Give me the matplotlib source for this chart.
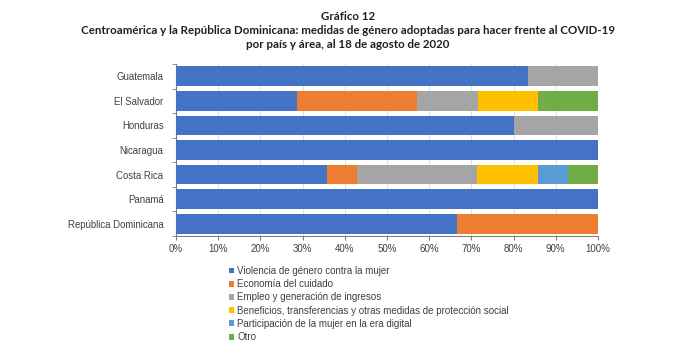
import matplotlib
matplotlib.use("Agg")
import matplotlib.pyplot as plt
import numpy as np

countries = ["Guatemala", "El Salvador", "Honduras", "Nicaragua", "Costa Rica", "Panamá", "República Dominicana"]
series_names = [
    "Violencia de género contra la mujer",
    "Economía del cuidado",
    "Empleo y generación de ingresos",
    "Beneficios, transferencias y otras medidas de protección social",
    "Participación de la mujer en la era digital",
    "Otro",
]
violencia = [83.3, 28.6, 80.0, 100.0, 35.7, 100.0, 66.7]
cuidado = [0.0, 28.6, 0.0, 0.0, 7.1, 0.0, 33.3]
empleo = [16.7, 14.3, 20.0, 0.0, 28.6, 0.0, 0.0]
beneficios = [0.0, 14.3, 0.0, 0.0, 14.3, 0.0, 0.0]
digital = [0.0, 0.0, 0.0, 0.0, 7.1, 0.0, 0.0]
otro = [0.0, 14.2, 0.0, 0.0, 7.2, 0.0, 0.0]
xticks = [0, 10, 20, 30, 40, 50, 60, 70, 80, 90, 100]

colors = ["#4472C4", "#ED7D31", "#A5A5A5", "#FFC000", "#5B9BD5", "#70AD47"]
series = [violencia, cuidado, empleo, beneficios, digital, otro]

plt.rcParams['font.family'] = ['Liberation Sans', 'DejaVu Sans']

fig = plt.figure(figsize=(6.96, 3.55), dpi=100)
ax = fig.add_axes([176/696, 1-236/355, 422/696, 172/355])

y = np.arange(len(countries))
left = np.zeros(len(countries))
handles = []
for name, vals, c in zip(series_names, series, colors):
    vals = np.array(vals)
    h = ax.barh(y, vals, left=left, height=0.8, color=c, label=name, zorder=3)
    left += vals
    handles.append(h)

ax.set_ylim(len(countries) - 0.5, -0.5)
ax.set_xlim(0, 100)
ax.set_xticks(xticks)
ax.set_xticklabels([f"{t}%" for t in xticks], fontsize=7, color="#404040")
ax.set_yticks(y)
ax.set_yticklabels(countries, fontsize=6.9, color="#404040")
ax.tick_params(axis='y', length=0, pad=9)
ax.set_yticks(np.arange(-0.5, len(countries), 1), minor=True)
ax.tick_params(axis='y', which='minor', length=3, color="#808080", direction='out')
ax.tick_params(axis='x', length=3, color="#808080", direction='out', pad=3)
ax.grid(axis='x', color="#D9D9D9", linewidth=0.6, zorder=0)
for s in ['top', 'right']:
    ax.spines[s].set_visible(False)
ax.spines['left'].set_color("#808080")
ax.spines['bottom'].set_color("#808080")
ax.spines['left'].set_linewidth(0.8)
ax.spines['bottom'].set_linewidth(0.8)

title_font = ['Lato', 'DejaVu Sans']
tkw = dict(ha='center', va='center', fontsize=8.3, fontweight='bold', family=title_font, color="#202020")
fig.text(0.5, 1-17/355, "Gráfico 12", **tkw)
fig.text(0.5, 1-31/355, "Centroamérica y la República Dominicana: medidas de género adoptadas para hacer frente al COVID-19", **tkw)
fig.text(0.5, 1-45/355, "por país y área, al 18 de agosto de 2020", **tkw)

leg = fig.legend(handles=handles, labels=series_names, loc='upper left', bbox_to_anchor=(229/696, 1-266/355),
                 frameon=False, fontsize=7, handlelength=0.55, handleheight=0.55, handletextpad=0.3,
                 labelspacing=0.33, borderaxespad=0, borderpad=0)
for t in leg.get_texts():
    t.set_color("#404040")

fig.savefig("out.png", dpi=100)
